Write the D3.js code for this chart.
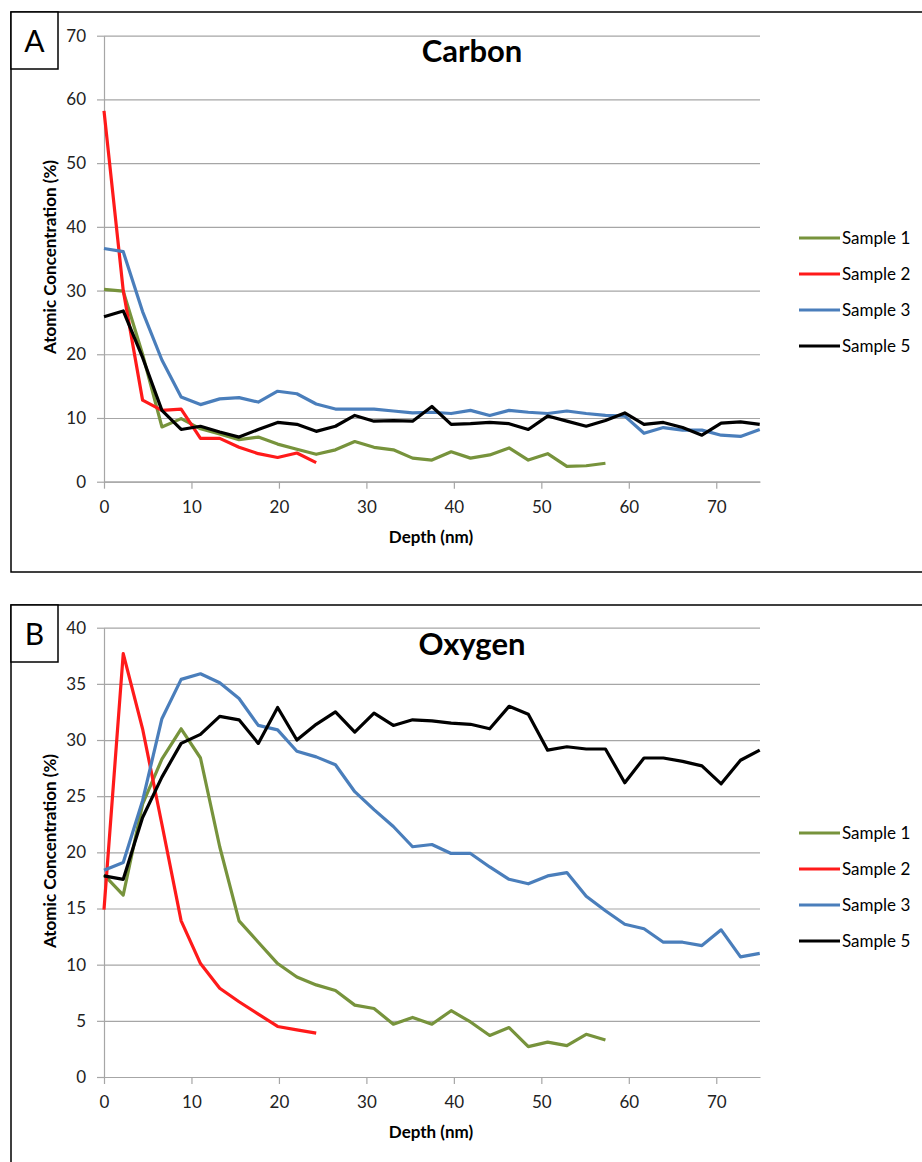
<!DOCTYPE html>
<html>
<head>
<meta charset="utf-8">
<script src="https://cdnjs.cloudflare.com/ajax/libs/d3/7.8.5/d3.min.js"></script>
<style>
  body { margin: 0; background: #fff; }
  svg { display: block; font-family: Lato, "Open Sans", sans-serif; }
</style>
</head>
<body>
<svg id="chart" width="922" height="1162"></svg>
<script>
// depth of each sputter step (nm)
const depth = [0, 2.2, 4.41, 6.62, 8.82, 11.03, 13.23, 15.44, 17.64, 19.85, 22.05, 24.26,
  26.46, 28.67, 30.87, 33.08, 35.28, 37.49, 39.69, 41.9, 44.1, 46.31, 48.51, 50.72,
  52.92, 55.13, 57.33, 59.54, 61.74, 63.95, 66.15, 68.36, 70.56, 72.77, 74.97];

const sampleNames = ["Sample 1", "Sample 2", "Sample 3", "Sample 5"];
const sampleColors = ["#77933c", "#ff1a1a", "#4a7ebb", "#000000"];

// carbon atomic concentration (%)
const carbon1 = [30.2, 29.9, 20.0, 8.6, 9.9, 8.3, 7.5, 6.6, 7.0, 5.9, 5.1, 4.3, 5.0, 6.3,
  5.4, 5.0, 3.7, 3.4, 4.7, 3.7, 4.2, 5.3, 3.4, 4.4, 2.4, 2.5, 2.9];
const carbon2 = [58.2, 30.0, 12.8, 11.2, 11.4, 6.8, 6.8, 5.4, 4.4, 3.8, 4.5, 3.0];
const carbon3 = [36.6, 36.1, 26.7, 19.1, 13.3, 12.1, 13.0, 13.2, 12.5, 14.2, 13.8, 12.2,
  11.4, 11.4, 11.4, 11.1, 10.8, 10.9, 10.7, 11.2, 10.4, 11.2, 10.9, 10.7, 11.1, 10.7,
  10.4, 10.3, 7.6, 8.5, 8.1, 8.1, 7.3, 7.1, 8.2];
const carbon5 = [25.9, 26.8, 19.5, 11.2, 8.2, 8.7, 7.8, 7.0, 8.2, 9.3, 9.0, 7.9, 8.7, 10.4,
  9.5, 9.6, 9.5, 11.8, 9.0, 9.1, 9.3, 9.1, 8.2, 10.3, 9.5, 8.7, 9.6, 10.8, 9.0, 9.3,
  8.5, 7.3, 9.2, 9.4, 9.0];

// oxygen atomic concentration (%)
const oxygen1 = [18.0, 16.2, 24.3, 28.3, 31.0, 28.4, 20.5, 13.9, 12.0, 10.1, 8.9, 8.2, 7.7,
  6.4, 6.1, 4.7, 5.3, 4.7, 5.9, 4.9, 3.7, 4.4, 2.7, 3.1, 2.8, 3.8, 3.3];
const oxygen2 = [14.9, 37.7, 31.0, 22.5, 13.9, 10.1, 7.9, 6.7, 5.6, 4.5, 4.2, 3.9];
const oxygen3 = [18.4, 19.1, 24.6, 31.9, 35.4, 35.9, 35.1, 33.7, 31.3, 30.9, 29.0, 28.5,
  27.8, 25.4, 23.8, 22.3, 20.5, 20.7, 19.9, 19.9, 18.7, 17.6, 17.2, 17.9, 18.2, 16.1,
  14.8, 13.6, 13.2, 12.0, 12.0, 11.7, 13.1, 10.7, 11.0];
const oxygen5 = [17.9, 17.6, 23.1, 26.7, 29.7, 30.5, 32.1, 31.8, 29.7, 32.9, 30.0, 31.4,
  32.5, 30.7, 32.4, 31.3, 31.8, 31.7, 31.5, 31.4, 31.0, 33.0, 32.3, 29.1, 29.4, 29.2,
  29.2, 26.2, 28.4, 28.4, 28.1, 27.7, 26.1, 28.2, 29.1];

const depthTicks = [0, 10, 20, 30, 40, 50, 60, 70];
const carbonTicks = [0, 10, 20, 30, 40, 50, 60, 70];
const oxygenTicks = [0, 5, 10, 15, 20, 25, 30, 35, 40];

const svg = d3.select("#chart");
const x = d3.scaleLinear().domain([0, 75]).range([104, 760]);

function drawPanel(p) {
  const g = svg.append("g");
  const y = d3.scaleLinear().domain([0, p.yMax]).range([p.bottom, p.top]);

  // panel frame and letter box
  g.append("rect")
    .attr("x", 11).attr("y", p.frameTop)
    .attr("width", 960).attr("height", p.frameHeight)
    .attr("fill", "none").attr("stroke", "#000").attr("stroke-width", 1.5);
  g.append("rect")
    .attr("x", 11).attr("y", p.frameTop)
    .attr("width", 47).attr("height", 57)
    .attr("fill", "#fff").attr("stroke", "#000").attr("stroke-width", 1.5);
  g.append("text")
    .attr("x", 34.5).attr("y", p.frameTop + 40)
    .attr("text-anchor", "middle")
    .style("font-size", "30px")
    .text(p.letter);

  // gridlines
  g.append("g")
    .attr("transform", `translate(${x(0)},0)`)
    .call(d3.axisLeft(y).tickValues(p.ticks).tickSize(-(x(75) - x(0))).tickFormat(""))
    .call(a => a.select(".domain").remove())
    .call(a => a.selectAll("line").attr("stroke", "#a6a6a6").attr("stroke-width", 1.2));

  // y axis
  g.append("g")
    .attr("transform", `translate(${x(0)},0)`)
    .call(d3.axisLeft(y).tickValues(p.ticks).tickSizeInner(7).tickSizeOuter(0).tickPadding(11))
    .call(a => a.select(".domain").attr("stroke", "#a6a6a6").attr("stroke-width", 1.2))
    .call(a => a.selectAll("line").attr("stroke", "#a6a6a6").attr("stroke-width", 1.2))
    .call(a => a.selectAll("text").attr("fill", "#222").style("font-size", "17px")
      .style("font-family", "Lato, sans-serif"));

  // x axis
  g.append("g")
    .attr("transform", `translate(0,${p.bottom})`)
    .call(d3.axisBottom(x).tickValues(depthTicks).tickSizeInner(7).tickSizeOuter(0).tickPadding(12))
    .call(a => a.select(".domain").attr("stroke", "#a6a6a6").attr("stroke-width", 1.2))
    .call(a => a.selectAll("line").attr("stroke", "#a6a6a6").attr("stroke-width", 1.2))
    .call(a => a.selectAll("text").attr("fill", "#222").style("font-size", "17px")
      .style("font-family", "Lato, sans-serif"));

  // series
  const line = d3.line()
    .x((d, i) => x(depth[i]))
    .y(d => y(d));

  g.selectAll(".series")
    .data(p.series)
    .join("path")
    .attr("class", "series")
    .attr("d", d => line(d))
    .attr("fill", "none")
    .attr("stroke", (d, i) => sampleColors[i])
    .attr("stroke-width", 3.2)
    .attr("stroke-linejoin", "round");

  // titles
  g.append("text")
    .attr("x", 472).attr("y", p.frameTop + 50)
    .attr("text-anchor", "middle")
    .style("font-size", "31px").style("font-weight", "bold")
    .text(p.title);

  g.append("text")
    .attr("x", 431).attr("y", p.bottom + 61)
    .attr("text-anchor", "middle")
    .style("font-size", "17px").style("font-weight", "bold")
    .text("Depth (nm)");

  g.append("text")
    .attr("transform", `translate(56,${p.yTitle}) rotate(-90)`)
    .attr("text-anchor", "middle")
    .style("font-size", "17px").style("font-weight", "bold")
    .text("Atomic Concentration (%)");

  // legend
  const leg = g.selectAll(".legend")
    .data(sampleNames)
    .join("g")
    .attr("class", "legend")
    .attr("transform", (d, i) => `translate(0,${p.legendTop + i * 36})`);
  leg.append("line")
    .attr("x1", 799).attr("x2", 840)
    .attr("stroke", (d, i) => sampleColors[i])
    .attr("stroke-width", 3.2);
  leg.append("text")
    .attr("x", 842).attr("y", 6)
    .style("font-size", "17px")
    .text(d => d);
}

drawPanel({
  letter: "A", title: "Carbon",
  frameTop: 12, frameHeight: 560,
  top: 35.7, bottom: 481.7, yMax: 70, ticks: carbonTicks,
  yTitle: 257, legendTop: 238,
  series: [carbon1, carbon2, carbon3, carbon5]
});

drawPanel({
  letter: "B", title: "Oxygen",
  frameTop: 605, frameHeight: 600,
  top: 627.7, bottom: 1077, yMax: 40, ticks: oxygenTicks,
  yTitle: 851, legendTop: 833,
  series: [oxygen1, oxygen2, oxygen3, oxygen5]
});
</script>
</body>
</html>
